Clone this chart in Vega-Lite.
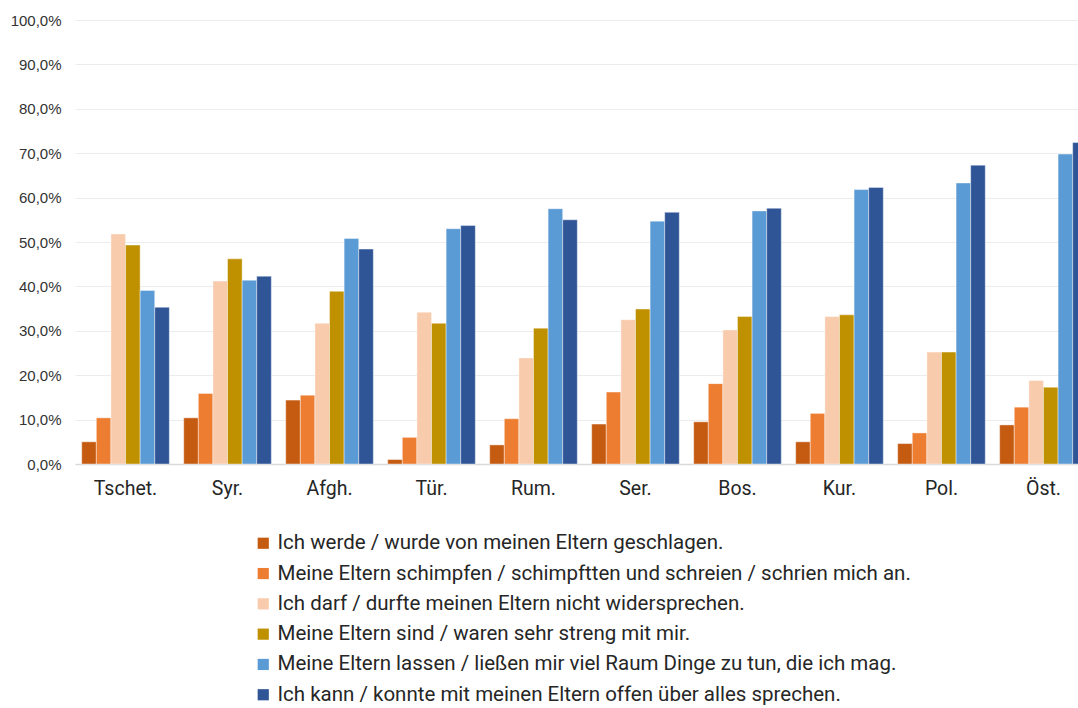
{
  "$schema": "https://vega.github.io/schema/vega-lite/v6.json",
  "width": 1003,
  "height": 444,
  "autosize": {"type": "none"},
  "padding": {"left": 75, "top": 20, "right": 0, "bottom": 244},
  "background": "white",
  "data": {
    "values": [
      {"land": "Tschet.", "aussage": "Ich werde / wurde von meinen Eltern geschlagen.", "wert": 5.0},
      {"land": "Tschet.", "aussage": "Meine Eltern schimpfen / schimpftten und schreien / schrien mich an.", "wert": 10.4},
      {"land": "Tschet.", "aussage": "Ich darf / durfte meinen Eltern nicht widersprechen.", "wert": 51.8},
      {"land": "Tschet.", "aussage": "Meine Eltern sind / waren sehr streng mit mir.", "wert": 49.3},
      {"land": "Tschet.", "aussage": "Meine Eltern lassen / ließen mir viel Raum Dinge zu tun, die ich mag.", "wert": 39.1},
      {"land": "Tschet.", "aussage": "Ich kann / konnte mit meinen Eltern offen über alles sprechen.", "wert": 35.3},
      {"land": "Syr.", "aussage": "Ich werde / wurde von meinen Eltern geschlagen.", "wert": 10.4},
      {"land": "Syr.", "aussage": "Meine Eltern schimpfen / schimpftten und schreien / schrien mich an.", "wert": 15.9},
      {"land": "Syr.", "aussage": "Ich darf / durfte meinen Eltern nicht widersprechen.", "wert": 41.2},
      {"land": "Syr.", "aussage": "Meine Eltern sind / waren sehr streng mit mir.", "wert": 46.2},
      {"land": "Syr.", "aussage": "Meine Eltern lassen / ließen mir viel Raum Dinge zu tun, die ich mag.", "wert": 41.4},
      {"land": "Syr.", "aussage": "Ich kann / konnte mit meinen Eltern offen über alles sprechen.", "wert": 42.3},
      {"land": "Afgh.", "aussage": "Ich werde / wurde von meinen Eltern geschlagen.", "wert": 14.4},
      {"land": "Afgh.", "aussage": "Meine Eltern schimpfen / schimpftten und schreien / schrien mich an.", "wert": 15.5},
      {"land": "Afgh.", "aussage": "Ich darf / durfte meinen Eltern nicht widersprechen.", "wert": 31.7},
      {"land": "Afgh.", "aussage": "Meine Eltern sind / waren sehr streng mit mir.", "wert": 38.9},
      {"land": "Afgh.", "aussage": "Meine Eltern lassen / ließen mir viel Raum Dinge zu tun, die ich mag.", "wert": 50.8},
      {"land": "Afgh.", "aussage": "Ich kann / konnte mit meinen Eltern offen über alles sprechen.", "wert": 48.4},
      {"land": "Tür.", "aussage": "Ich werde / wurde von meinen Eltern geschlagen.", "wert": 1.0},
      {"land": "Tür.", "aussage": "Meine Eltern schimpfen / schimpftten und schreien / schrien mich an.", "wert": 6.0},
      {"land": "Tür.", "aussage": "Ich darf / durfte meinen Eltern nicht widersprechen.", "wert": 34.2},
      {"land": "Tür.", "aussage": "Meine Eltern sind / waren sehr streng mit mir.", "wert": 31.7},
      {"land": "Tür.", "aussage": "Meine Eltern lassen / ließen mir viel Raum Dinge zu tun, die ich mag.", "wert": 53.0},
      {"land": "Tür.", "aussage": "Ich kann / konnte mit meinen Eltern offen über alles sprechen.", "wert": 53.7},
      {"land": "Rum.", "aussage": "Ich werde / wurde von meinen Eltern geschlagen.", "wert": 4.3},
      {"land": "Rum.", "aussage": "Meine Eltern schimpfen / schimpftten und schreien / schrien mich an.", "wert": 10.2},
      {"land": "Rum.", "aussage": "Ich darf / durfte meinen Eltern nicht widersprechen.", "wert": 23.9},
      {"land": "Rum.", "aussage": "Meine Eltern sind / waren sehr streng mit mir.", "wert": 30.6},
      {"land": "Rum.", "aussage": "Meine Eltern lassen / ließen mir viel Raum Dinge zu tun, die ich mag.", "wert": 57.5},
      {"land": "Rum.", "aussage": "Ich kann / konnte mit meinen Eltern offen über alles sprechen.", "wert": 55.0},
      {"land": "Ser.", "aussage": "Ich werde / wurde von meinen Eltern geschlagen.", "wert": 9.0},
      {"land": "Ser.", "aussage": "Meine Eltern schimpfen / schimpftten und schreien / schrien mich an.", "wert": 16.2},
      {"land": "Ser.", "aussage": "Ich darf / durfte meinen Eltern nicht widersprechen.", "wert": 32.5},
      {"land": "Ser.", "aussage": "Meine Eltern sind / waren sehr streng mit mir.", "wert": 34.9},
      {"land": "Ser.", "aussage": "Meine Eltern lassen / ließen mir viel Raum Dinge zu tun, die ich mag.", "wert": 54.7},
      {"land": "Ser.", "aussage": "Ich kann / konnte mit meinen Eltern offen über alles sprechen.", "wert": 56.7},
      {"land": "Bos.", "aussage": "Ich werde / wurde von meinen Eltern geschlagen.", "wert": 9.5},
      {"land": "Bos.", "aussage": "Meine Eltern schimpfen / schimpftten und schreien / schrien mich an.", "wert": 18.1},
      {"land": "Bos.", "aussage": "Ich darf / durfte meinen Eltern nicht widersprechen.", "wert": 30.2},
      {"land": "Bos.", "aussage": "Meine Eltern sind / waren sehr streng mit mir.", "wert": 33.2},
      {"land": "Bos.", "aussage": "Meine Eltern lassen / ließen mir viel Raum Dinge zu tun, die ich mag.", "wert": 57.0},
      {"land": "Bos.", "aussage": "Ich kann / konnte mit meinen Eltern offen über alles sprechen.", "wert": 57.6},
      {"land": "Kur.", "aussage": "Ich werde / wurde von meinen Eltern geschlagen.", "wert": 5.0},
      {"land": "Kur.", "aussage": "Meine Eltern schimpfen / schimpftten und schreien / schrien mich an.", "wert": 11.4},
      {"land": "Kur.", "aussage": "Ich darf / durfte meinen Eltern nicht widersprechen.", "wert": 33.2},
      {"land": "Kur.", "aussage": "Meine Eltern sind / waren sehr streng mit mir.", "wert": 33.6},
      {"land": "Kur.", "aussage": "Meine Eltern lassen / ließen mir viel Raum Dinge zu tun, die ich mag.", "wert": 61.8},
      {"land": "Kur.", "aussage": "Ich kann / konnte mit meinen Eltern offen über alles sprechen.", "wert": 62.3},
      {"land": "Pol.", "aussage": "Ich werde / wurde von meinen Eltern geschlagen.", "wert": 4.6},
      {"land": "Pol.", "aussage": "Meine Eltern schimpfen / schimpftten und schreien / schrien mich an.", "wert": 7.0},
      {"land": "Pol.", "aussage": "Ich darf / durfte meinen Eltern nicht widersprechen.", "wert": 25.2},
      {"land": "Pol.", "aussage": "Meine Eltern sind / waren sehr streng mit mir.", "wert": 25.2},
      {"land": "Pol.", "aussage": "Meine Eltern lassen / ließen mir viel Raum Dinge zu tun, die ich mag.", "wert": 63.3},
      {"land": "Pol.", "aussage": "Ich kann / konnte mit meinen Eltern offen über alles sprechen.", "wert": 67.3},
      {"land": "Öst.", "aussage": "Ich werde / wurde von meinen Eltern geschlagen.", "wert": 8.8},
      {"land": "Öst.", "aussage": "Meine Eltern schimpfen / schimpftten und schreien / schrien mich an.", "wert": 12.8},
      {"land": "Öst.", "aussage": "Ich darf / durfte meinen Eltern nicht widersprechen.", "wert": 18.8},
      {"land": "Öst.", "aussage": "Meine Eltern sind / waren sehr streng mit mir.", "wert": 17.3},
      {"land": "Öst.", "aussage": "Meine Eltern lassen / ließen mir viel Raum Dinge zu tun, die ich mag.", "wert": 69.8},
      {"land": "Öst.", "aussage": "Ich kann / konnte mit meinen Eltern offen über alles sprechen.", "wert": 72.4}
    ]
  },
  "mark": {"type": "bar", "stroke": "white", "strokeWidth": 0.6, "strokeOpacity": 0.7},
  "encoding": {
    "x": {
      "field": "land",
      "type": "nominal",
      "sort": ["Tschet.", "Syr.", "Afgh.", "Tür.", "Rum.", "Ser.", "Bos.", "Kur.", "Pol.", "Öst."],
      "scale": {"range": [0, 1019], "paddingInner": 0.141, "paddingOuter": 0.066},
      "axis": {
        "title": null,
        "labelAngle": 0,
        "ticks": false,
        "domain": true,
        "domainColor": "#d9d9d9",
        "domainWidth": 1.5,
        "labelFont": "Roboto",
        "labelFontSize": 19.5,
        "labelColor": "#262626",
        "labelPadding": 15,
        "grid": false
      }
    },
    "xOffset": {
      "field": "aussage",
      "type": "nominal",
      "sort": [
        "Ich werde / wurde von meinen Eltern geschlagen.",
        "Meine Eltern schimpfen / schimpftten und schreien / schrien mich an.",
        "Ich darf / durfte meinen Eltern nicht widersprechen.",
        "Meine Eltern sind / waren sehr streng mit mir.",
        "Meine Eltern lassen / ließen mir viel Raum Dinge zu tun, die ich mag.",
        "Ich kann / konnte mit meinen Eltern offen über alles sprechen."
      ],
      "scale": {"paddingInner": 0, "paddingOuter": 0}
    },
    "y": {
      "field": "wert",
      "type": "quantitative",
      "scale": {"domain": [0, 100]},
      "axis": {
        "title": null,
        "values": [0, 10, 20, 30, 40, 50, 60, 70, 80, 90, 100],
        "labelExpr": "replace(format(datum.value, '.1f'), '.', ',') + '%'",
        "domain": false,
        "ticks": false,
        "gridColor": "#ececec",
        "gridWidth": 1.2,
        "labelFont": "Liberation Sans",
        "labelFontSize": 15,
        "labelColor": "#333333",
        "labelPadding": 14
      }
    },
    "color": {
      "field": "aussage",
      "type": "nominal",
      "scale": {
        "domain": [
          "Ich werde / wurde von meinen Eltern geschlagen.",
          "Meine Eltern schimpfen / schimpftten und schreien / schrien mich an.",
          "Ich darf / durfte meinen Eltern nicht widersprechen.",
          "Meine Eltern sind / waren sehr streng mit mir.",
          "Meine Eltern lassen / ließen mir viel Raum Dinge zu tun, die ich mag.",
          "Ich kann / konnte mit meinen Eltern offen über alles sprechen."
        ],
        "range": ["#C55A11", "#ED7D31", "#F8CBAD", "#BF9000", "#5B9BD5", "#2F5597"]
      },
      "legend": {
        "title": null,
        "orient": "none",
        "legendX": 178,
        "legendY": 513,
        "direction": "vertical",
        "symbolType": "square",
        "symbolSize": 125,
        "symbolStrokeWidth": 0,
        "labelFont": "Roboto",
        "labelFontSize": 20.5,
        "labelColor": "#262626",
        "labelOffset": 4,
        "rowPadding": 9.3,
        "labelLimit": 900
      }
    }
  },
  "config": {"view": {"stroke": null}}
}
